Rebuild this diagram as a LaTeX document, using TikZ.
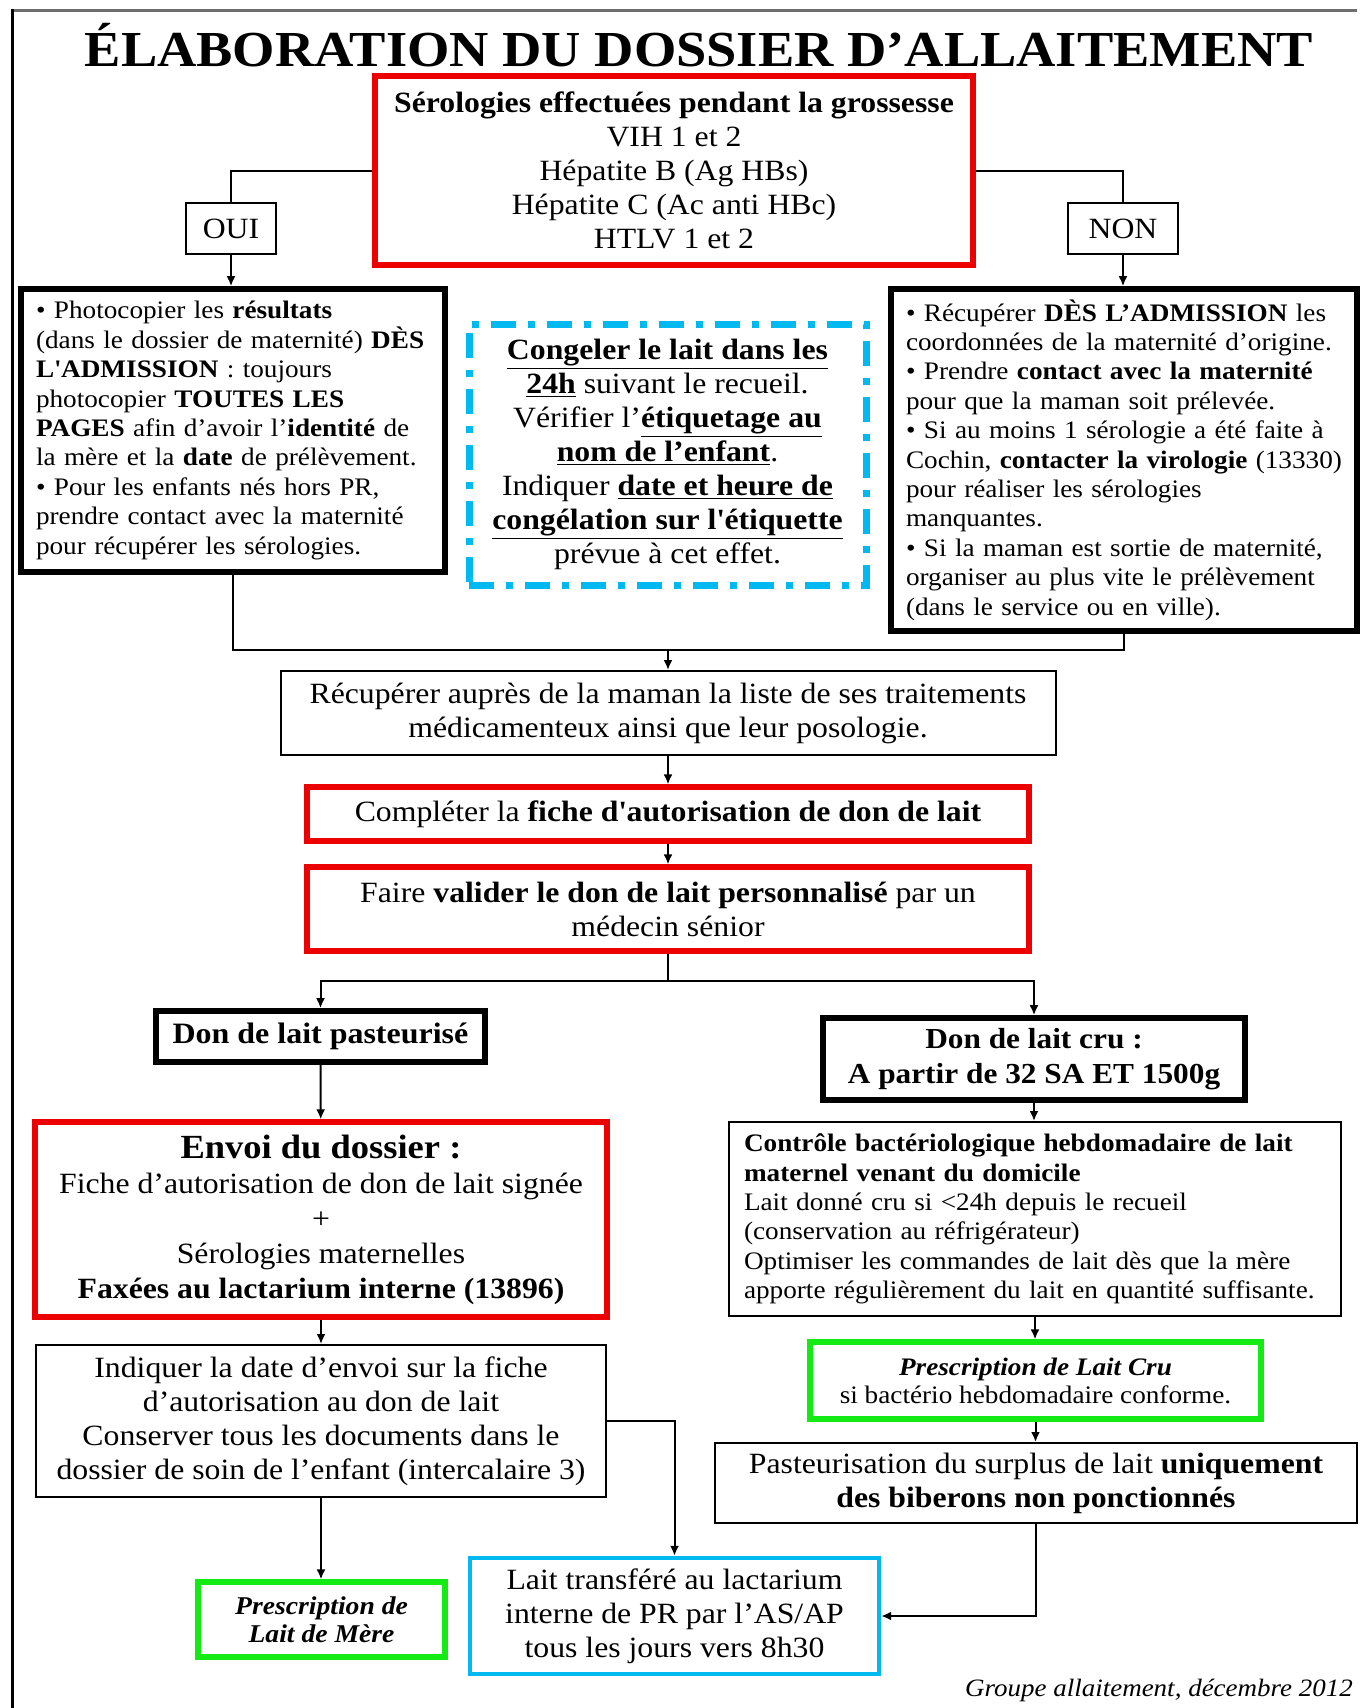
\documentclass[tikz,border=0pt]{standalone}
\usepackage{fontspec}
\setmainfont[FakeStretch=1.08]{Liberation Serif}
\usetikzlibrary{arrows.meta}
\definecolor{rouge}{RGB}{237,0,0}
\definecolor{vert}{RGB}{20,235,20}
\definecolor{bleu}{RGB}{0,185,240}
\definecolor{cadre}{RGB}{110,110,110}
\newcommand{\souligne}[1]{\underline{\textbf{#1}}}
\tikzset{
  box/.style={draw, line width=1pt, inner sep=0pt, align=center, font=\fontsize{14.7}{17}\selectfont},
  thickbox/.style={box, line width=2.8pt},
  redbox/.style={box, draw=rouge, line width=2.6pt},
  greenbox/.style={box, draw=vert, line width=2.6pt, font=\fontsize{12.6}{14}\selectfont},
  smalltext/.style={align=left, inner xsep=7.5pt, font=\fontsize{12.6}{14.7}\selectfont},
  arr/.style={-{Latex[length=5pt,width=4.5pt]}},
  link/.style={line width=1pt},
}
\begin{document}
\begin{tikzpicture}[x=0.5pt, y=-0.5pt]
\useasboundingbox (0,0) rectangle (1362,1708);
% cadre de la page
\draw[cadre, line width=1.5pt] (12,10) -- (1357,10);
\draw[line width=1.5pt] (12,9) -- (12,1708);

\node[font=\fontsize{25.2}{30}\selectfont\bfseries] (titre) at (699,45) {ÉLABORATION DU DOSSIER D’ALLAITEMENT};

% serologies
\node[redbox, minimum width=299pt, minimum height=94.5pt] (sero) at (674,170.5) {\textbf{Sérologies effectuées pendant la grossesse}\\VIH 1 et 2\\Hépatite B (Ag HBs)\\Hépatite C (Ac anti HBc)\\HTLV 1 et 2};
\node[box, minimum width=45pt, minimum height=25.5pt] (oui) at (231,228.5) {OUI};
\node[box, minimum width=55pt, minimum height=25.5pt] (non) at (1123,228.5) {NON};

\node[thickbox, smalltext, text width=197pt, minimum height=141.5pt] (gauche) at (233,430.5) {\textbullet{} Photocopier les \textbf{résultats}\\(dans le dossier de maternité) \textbf{DÈS}\\\textbf{L\textquotesingle ADMISSION} : toujours\\photocopier \textbf{TOUTES LES}\\\textbf{PAGES} afin d’avoir l’\textbf{identité} de\\la mère et la \textbf{date} de prélèvement.\\\textbullet{} Pour les enfants nés hors PR,\\prendre contact avec la maternité\\pour récupérer les sérologies.};
\node[box, draw=bleu, line width=3.5pt, dash pattern=on 12.5pt off 6pt on 3.5pt off 6pt, minimum width=198.5pt, minimum height=130.5pt] (congel) at (667.5,454.5) {\souligne{Congeler le lait dans les}\\\souligne{24h} suivant le recueil.\\Vérifier l’\souligne{étiquetage au}\\\souligne{nom de l’enfant}.\\Indiquer \souligne{date et heure de}\\\souligne{congélation sur l\textquotesingle étiquette}\\prévue à cet effet.};
\node[thickbox, smalltext, text width=218pt, minimum height=171pt] (droite) at (1124,460) {\textbullet{} Récupérer \textbf{DÈS L’ADMISSION} les\\coordonnées de la maternité d’origine.\\\textbullet{} Prendre \textbf{contact avec la maternité}\\pour que la maman soit prélevée.\\\textbullet{} Si au moins 1 sérologie a été faite à\\Cochin, \textbf{contacter la virologie} (13330)\\pour réaliser les sérologies\\manquantes.\\\textbullet{} Si la maman est sortie de maternité,\\organiser au plus vite le prélèvement\\(dans le service ou en ville).};

\node[box, minimum width=387.5pt, minimum height=42pt] (recup) at (668,713) {Récupérer auprès de la maman la liste de ses traitements\\médicamenteux ainsi que leur posologie.};
\node[redbox, minimum width=361pt, minimum height=27pt] (fiche) at (668,814) {Compléter la \textbf{fiche d\textquotesingle autorisation de don de lait}};
\node[redbox, minimum width=361pt, minimum height=42pt] (valider) at (668,909) {Faire \textbf{valider le don de lait personnalisé} par un\\médecin sénior};

% deux branches
\node[thickbox, font=\fontsize{14.8}{17}\selectfont\bfseries, minimum width=164.5pt, minimum height=25.5pt] (past) at (320.5,1036.5) {Don de lait pasteurisé};
\node[thickbox, font=\fontsize{14.5}{17.5}\selectfont\bfseries, minimum width=211pt, minimum height=41pt] (cru) at (1034,1059) {Don de lait cru :\\A partir de 32 SA ET 1500g};
\node[redbox, font=\fontsize{14.7}{17.5}\selectfont, minimum width=286pt, minimum height=97.5pt] (envoi) at (321,1219.5) {{\fontsize{16.9}{17.5}\selectfont\textbf{Envoi du dossier :}}\\Fiche d’autorisation de don de lait signée\\+\\Sérologies maternelles\\\textbf{Faxées au lactarium interne (13896)}};
\node[box, smalltext, text width=291pt, minimum height=97pt] (controle) at (1035,1219) {\textbf{Contrôle bactériologique hebdomadaire de lait}\\\textbf{maternel venant du domicile}\\Lait donné cru si <24h depuis le recueil\\(conservation au réfrigérateur)\\Optimiser les commandes de lait dès que la mère\\apporte régulièrement du lait en quantité suffisante.};
\node[box, minimum width=285pt, minimum height=76pt] (indiquer) at (321,1421) {Indiquer la date d’envoi sur la fiche\\d’autorisation au don de lait\\Conserver tous les documents dans le\\dossier de soin de l’enfant (intercalaire 3)};
\node[greenbox, minimum width=225.5pt, minimum height=38.5pt] (presccru) at (1035.5,1380.5) {\textbf{\textit{Prescription de Lait Cru}}\\si bactério hebdomadaire conforme.};
\node[box, minimum width=321pt, minimum height=40pt] (surplus) at (1036,1483) {Pasteurisation du surplus de lait \textbf{uniquement}\\\textbf{des biberons non ponctionnés}};
\node[greenbox, font=\fontsize{12.8}{14}\selectfont\bfseries\itshape, minimum width=123.5pt, minimum height=37.5pt] (prescmere) at (321.5,1619.5) {Prescription de\\Lait de Mère};
\node[box, draw=bleu, line width=2.2pt, minimum width=204.5pt, minimum height=58pt] (lactarium) at (674.5,1616) {Lait transféré au lactarium\\interne de PR par l’AS/AP\\tous les jours vers 8h30};
\node[anchor=east, font=\fontsize{12.5}{14}\selectfont\itshape] (signature) at (1360,1690) {Groupe allaitement, décembre 2012};

% liaisons
\coordinate (jonction) at (668,650);
\coordinate (partage) at (668,981);
\draw[link] (sero.west) -| (oui.north);
\draw[link] (sero.east) -| (non.north);
\draw[link, arr] (oui.south) -- (oui.south |- gauche.north);
\draw[link, arr] (non.south) -- (non.south |- droite.north);
\draw[link] (gauche.south) |- (jonction) -| (droite.south);
\draw[link, arr] (jonction) -- (recup.north);
\draw[link, arr] (recup) -- (fiche);
\draw[link, arr] (fiche) -- (valider);
\draw[link] (valider.south) -- (partage);
\draw[link, arr] (partage) -| (past.north);
\draw[link, arr] (partage) -| (cru.north);
\draw[link, arr] (past) -- (envoi);
\draw[link, arr] (cru.south) -- (cru.south |- controle.north);
\draw[link, arr] (envoi) -- (indiquer);
\draw[link, arr] (controle.south) -- (controle.south |- presccru.north);
\draw[link, arr] (presccru.south) -- (presccru.south |- surplus.north);
\draw[link, arr] (indiquer.south) -- (indiquer.south |- prescmere.north);
\draw[link, arr] (indiquer.east) -| (lactarium.north);
\draw[link, arr, line width=1.4pt] (surplus.south) |- (lactarium.east);
\end{tikzpicture}
\end{document}
